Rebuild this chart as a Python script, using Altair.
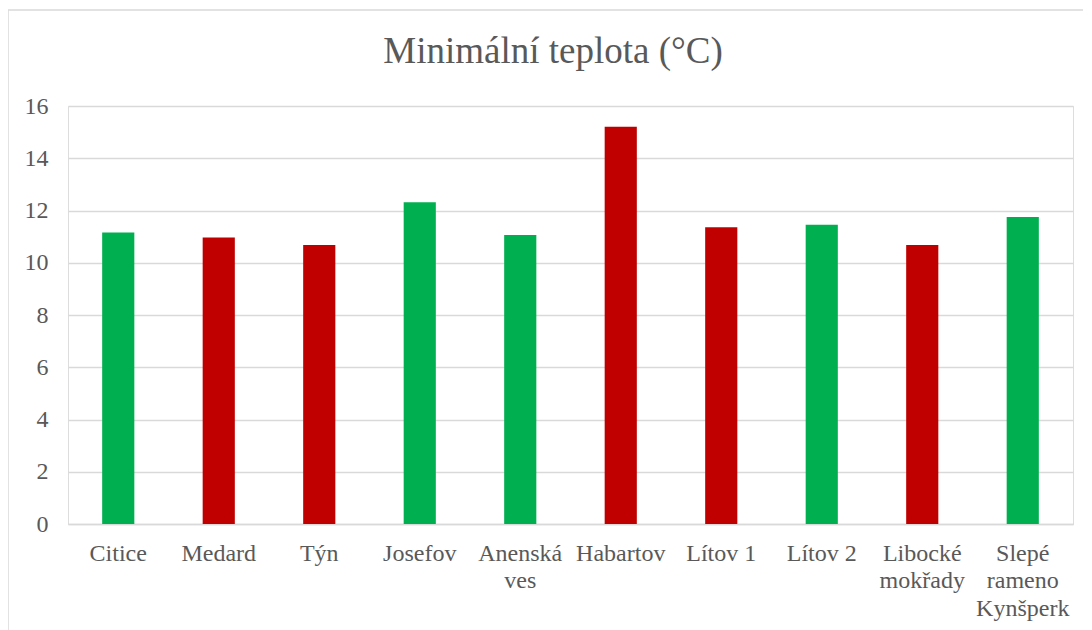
import altair as alt
import pandas as pd

stations = ["Citice", "Medard", "Týn", "Josefov", "Anenská\nves", "Habartov",
            "Lítov 1", "Lítov 2", "Libocké\nmokřady", "Slepé\nrameno\nKynšperk"]
values = [11.16, 10.97, 10.68, 12.32, 11.06, 15.21, 11.36, 11.45, 10.68, 11.75]
groups = ["g", "r", "r", "g", "g", "r", "r", "g", "r", "g"]
title_text = ["Minimální teplota (°C)"]

df = pd.DataFrame({"station": stations, "value": values, "group": groups})

font = "Liberation Serif"
grey = "#595959"

bars = alt.Chart(df).mark_bar().encode(
    x=alt.X("station:N", sort=stations,
            scale=alt.Scale(paddingInner=0.68, paddingOuter=0.34),
            axis=alt.Axis(title=None, labelAngle=0, labelFont=font, labelFontSize=24,
                          labelColor=grey, labelPadding=17, ticks=False,
                          domainColor="#d9d9d9", domainWidth=1.5,
                          labelExpr="split(datum.label, '\\n')",
                          labelLineHeight=27.5, labelBaseline="top")),
    y=alt.Y("value:Q", scale=alt.Scale(domain=[0, 16]),
            axis=alt.Axis(title=None, values=[0, 2, 4, 6, 8, 10, 12, 14, 16],
                          labelFont=font, labelFontSize=24, labelColor=grey,
                          labelPadding=20, ticks=False, domain=False,
                          gridColor="#d9d9d9", gridWidth=1.5)),
    color=alt.Color("group:N", scale=alt.Scale(domain=["g", "r"], range=["#00B050", "#C00000"]),
                    legend=None),
)

# light chart-area border (decoration)
border = alt.Chart(pd.DataFrame({"k": [0]})).mark_rect(
    fill=None, stroke="#d9d9d9", strokeWidth=1.5, clip=False
).encode(
    x=alt.value(-60), x2=alt.value(1100), y=alt.value(-96), y2=alt.value(600)
)

title = alt.Chart(pd.DataFrame({"t": title_text})).mark_text(
    font=font, fontSize=37, color=grey, align="center", baseline="alphabetic", clip=False
).encode(
    text="t:N", x=alt.value(485), y=alt.value(-43)
)

chart = alt.layer(border, bars, title).properties(
    width=1005, height=418,
    autosize=alt.AutoSizeParams(type="none"),
    padding={"left": 60, "top": 98, "right": 10, "bottom": 110},
).configure_view(stroke=None).configure(background="white")

chart.save("out.html", embed_options={"renderer": "svg", "actions": False})
